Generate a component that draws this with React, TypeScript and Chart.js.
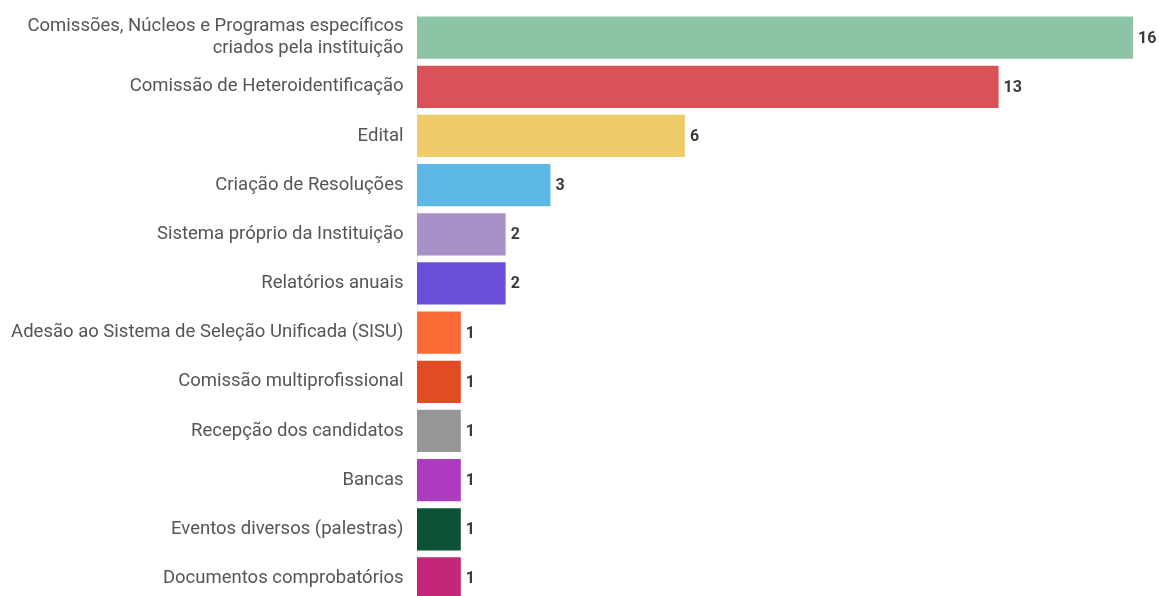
import React, { useEffect, useRef } from "react";
import { Chart, registerables } from "chart.js";

Chart.register(...registerables);

const categories: (string | string[])[] = [
  ["Comissões, Núcleos e Programas específicos", "criados pela instituição"],
  "Comissão de Heteroidentificação",
  "Edital",
  "Criação de Resoluções",
  "Sistema próprio da Instituição",
  "Relatórios anuais",
  "Adesão ao Sistema de Seleção Unificada (SISU)",
  "Comissão multiprofissional",
  "Recepção dos candidatos",
  "Bancas",
  "Eventos diversos (palestras)",
  "Documentos comprobatórios",
];

const values: number[] = [16, 13, 6, 3, 2, 2, 1, 1, 1, 1, 1, 1];

const barColors: string[] = [
  "#8cc4a5",
  "#d95257",
  "#f0cb6a",
  "#5db8e6",
  "#a890c8",
  "#6b4fd9",
  "#fb6a35",
  "#e34c22",
  "#969696",
  "#ad3bbf",
  "#0d5234",
  "#c4267a",
];

const valueLabelPlugin = {
  id: "valueLabels",
  afterDatasetsDraw(chart: any) {
    const { ctx } = chart;
    const meta = chart.getDatasetMeta(0);
    ctx.save();
    ctx.font = "bold 16px Roboto";
    ctx.fillStyle = "#3a3a3a";
    ctx.textAlign = "left";
    ctx.textBaseline = "middle";
    meta.data.forEach((bar: any, i: number) => {
      ctx.fillText(String(values[i]), bar.x + 4, bar.y + 1);
    });
    ctx.restore();
  },
};

export default function App() {
  const canvasRef = useRef<HTMLCanvasElement | null>(null);

  useEffect(() => {
    if (!canvasRef.current) return;
    const chart = new Chart(canvasRef.current, {
      type: "bar",
      data: {
        labels: categories,
        datasets: [
          {
            data: values,
            backgroundColor: barColors,
            borderColor: "rgba(255,255,255,0.45)",
            borderWidth: 1,
            barPercentage: 0.9,
            categoryPercentage: 1,
          },
        ],
      },
      options: {
        indexAxis: "y",
        animation: false,
        responsive: true,
        maintainAspectRatio: false,
        layout: { padding: { top: 13, right: 25, bottom: 0, left: 0 } },
        plugins: {
          legend: { display: false },
          tooltip: { enabled: false },
        },
        scales: {
          x: {
            display: false,
            min: 0,
            max: 16,
          },
          y: {
            afterFit(scale: any) {
              scale.width = 417;
              scale.paddingTop = 0;
              scale.paddingBottom = 0;
            },
            grid: { display: false, drawTicks: false },
            border: { display: true, color: "#ececec" },
            ticks: {
              padding: 13.5,
              color: "#555555",
              font: { family: "Roboto", size: 18.5 },
            },
          },
        },
      },
      plugins: [valueLabelPlugin],
    });
    return () => chart.destroy();
  }, []);

  return (
    <div style={{ position: "absolute", left: 0, top: 0, width: 1159, height: 603, background: "#fff" }}>
      <canvas ref={canvasRef} />
    </div>
  );
}
